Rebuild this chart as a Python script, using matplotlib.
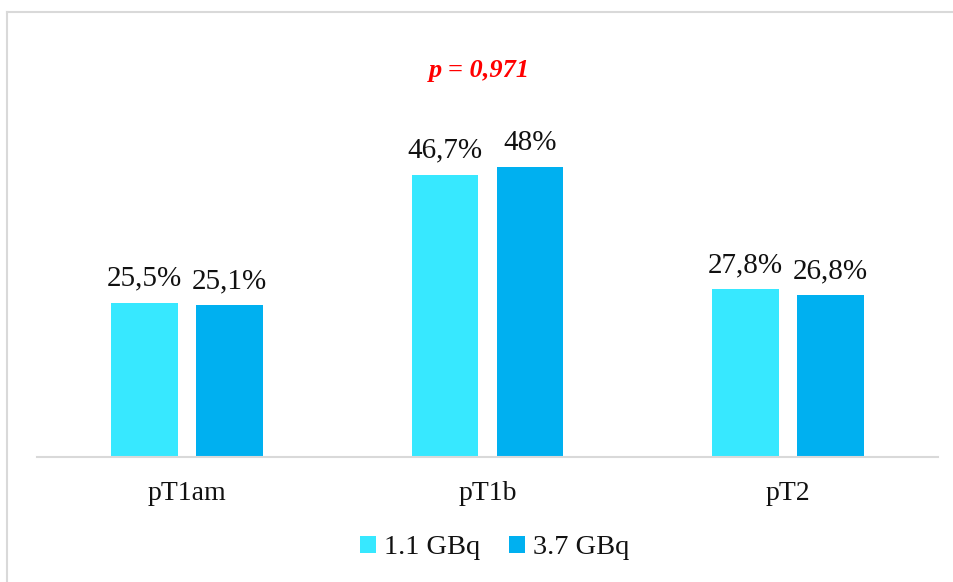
import matplotlib
matplotlib.use("Agg")
import matplotlib.pyplot as plt
import numpy as np
from matplotlib.lines import Line2D

categories = ["pT1am", "pT1b", "pT2"]
series_names = ["1.1 GBq", "3.7 GBq"]
low_dose = [25.5, 46.7, 27.8]
high_dose = [25.1, 48.0, 26.8]
low_labels = ["25,5%", "46,7%", "27,8%"]
high_labels = ["25,1%", "48%", "26,8%"]
p_text = "p = 0,971"

colors = ["#37E8FF", "#00B0F0"]

plt.rcParams["font.family"] = ["Liberation Serif", "DejaVu Serif"]

W, H = 954, 582
fig = plt.figure(figsize=(W / 100, H / 100), dpi=100)

# outer chart frame (left and top edges)
frame_kw = dict(transform=fig.transFigure, color="#D9D9D9", linewidth=1.5)
fig.lines.append(Line2D([7 / W, 7 / W], [0, 1 - 12 / H], **frame_kw))
fig.lines.append(Line2D([7 / W, 1], [1 - 12 / H, 1 - 12 / H], **frame_kw))

ax = fig.add_axes([37 / W, (582 - 457) / H, 901 / W, 417 / H])

x = np.arange(len(categories))
bw = 0.223
gap = 0.06
off = (bw + gap) / 2
b1 = ax.bar(x - off, low_dose, bw, color=colors[0], label=series_names[0])
b2 = ax.bar(x + off, high_dose, bw, color=colors[1], label=series_names[1])

for bars, labels in ((b1, low_labels), (b2, high_labels)):
    for rect, lab in zip(bars, labels):
        ax.annotate(lab, (rect.get_x() + rect.get_width() / 2, rect.get_height()),
                    xytext=(0, 8), textcoords="offset points",
                    ha="center", va="bottom", fontsize=21, color="#111111")

ax.set_xlim(-0.5, 2.5)
ax.set_ylim(0, 69)
ax.set_yticks([])
for s in ("top", "right", "left"):
    ax.spines[s].set_visible(False)
ax.spines["bottom"].set_color("#D9D9D9")
ax.spines["bottom"].set_linewidth(1.5)
ax.set_xticks(x)
ax.set_xticklabels(categories, fontsize=20, color="#111111")
ax.tick_params(axis="x", length=0, pad=17)

fig.text(479 / W, 1 - 71 / H, p_text, color="#FF0000", fontsize=19,
         fontweight="bold", fontstyle="italic", ha="center", va="center")

fig.legend(handles=[b1, b2], labels=series_names, loc="center",
           bbox_to_anchor=(495 / W, 1 - 548 / H), ncol=2, frameon=False,
           fontsize=20.5, handlelength=0.55, handleheight=0.55,
           handletextpad=0.3, columnspacing=1.0, labelcolor="#111111")

fig.savefig("out.png", dpi=100, facecolor="white")
